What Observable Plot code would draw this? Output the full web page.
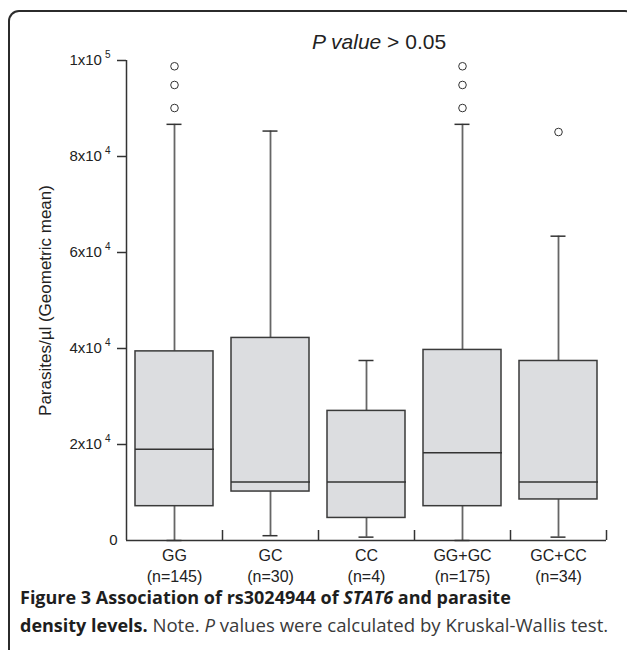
<!DOCTYPE html>
<html>
<head>
<meta charset="utf-8">
<script src="https://cdn.jsdelivr.net/npm/d3@7"></script>
<script src="https://cdn.jsdelivr.net/npm/@observablehq/plot@0.6"></script>
<style>
  html, body { margin: 0; padding: 0; background: #fff; width: 627px; height: 650px; overflow: hidden; position: relative; }
  #frame { position: absolute; left: 8px; top: 10px; width: 628px; height: 700px; border: 2px solid #2b2b2b; border-bottom: none; border-radius: 11px 11px 0 0; box-sizing: border-box; }
  #chart { position: absolute; left: 0; top: 0; }
  #title { position: absolute; left: 312px; top: 31px; font-family: "Liberation Sans", Arial, sans-serif; font-size: 21px; line-height: 21px; color: #222; white-space: nowrap; }
  #caption { position: absolute; left: 20px; top: 583px; width: 605px; font-family: "Open Sans", sans-serif; font-size: 18.6px; line-height: 28px; color: #3a3a3a; white-space: nowrap; }
  #caption b { color: #1e1e1e; font-weight: 700; font-size: 18px; }
</style>
</head>
<body>
<div id="frame"></div>
<div id="chart"></div>
<div id="title"><i>P value</i> &gt; 0.05</div>
<div id="caption"><b>Figure 3 Association of rs3024944 of <i>STAT6</i> and parasite</b><br><b>density levels.</b> Note. <i>P</i> values were calculated by Kruskal-Wallis test.</div>
<script>
// ---- data ----
const categories = ["GG", "GC", "CC", "GG+GC", "GC+CC"];
const sampleSizes = ["(n=145)", "(n=30)", "(n=4)", "(n=175)", "(n=34)"];
const whiskerLow  = [0,     1000,  700,   0,     700];
const q1Values    = [7150,  10200, 4700,  7150,  8550];
const medians     = [19000, 12200, 12200, 18300, 12200];
const q3Values    = [39400, 42200, 27000, 39700, 37400];
const whiskerHigh = [86700, 85300, 37500, 86700, 63400];
const outlierGroup  = [0, 0, 0, 3, 3, 3, 4];
const outlierValues = [90100, 94900, 98800, 90100, 94900, 98800, 85100];
const yTicks = [0, 20000, 40000, 60000, 80000, 100000];
const yTickLabels = ["0", "2x10^4", "4x10^4", "6x10^4", "8x10^4", "1x10^5"];
const yLabel = "Parasites/µl (Geometric mean)";

// ---- tables ----
const idx = categories.map((_, i) => i);
const rows = idx.map(i => ({i, lo: whiskerLow[i], q1: q1Values[i], med: medians[i], q3: q3Values[i], hi: whiskerHigh[i]}));
const outliers = outlierGroup.map((g, k) => ({i: g, v: outlierValues[k]}));
const xDomain = [-0.5, categories.length - 0.5];
const yDomain = [yTicks[0], yTicks[yTicks.length - 1]];
const bounds = idx.map(i => i + 0.5);

const dark = "#333";
const whisk = "#666";
const boxFill = "#dcdde0";

const chart = Plot.plot({
  width: 627,
  height: 590,
  marginLeft: 126,
  marginRight: 21,
  marginTop: 60,
  marginBottom: 50,
  style: {fontFamily: "'Liberation Sans', Arial, sans-serif", fontSize: "16px", color: "#222", background: "transparent"},
  x: {domain: xDomain, axis: null, label: null},
  y: {domain: yDomain, axis: null, label: null},
  marks: [
    // whiskers
    Plot.ruleX(rows, {x: "i", y1: "lo", y2: "q1", stroke: whisk, strokeWidth: 1.8}),
    Plot.ruleX(rows, {x: "i", y1: "q3", y2: "hi", stroke: whisk, strokeWidth: 1.8}),
    Plot.ruleY(rows, {y: "hi", x1: "i", x2: "i", insetLeft: -7.5, insetRight: -7.5, stroke: dark, strokeWidth: 1.5}),
    Plot.ruleY(rows, {y: "lo", x1: "i", x2: "i", insetLeft: -7.5, insetRight: -7.5, stroke: dark, strokeWidth: 1.5}),
    // boxes
    Plot.rect(rows, {x1: d => d.i - 0.5, x2: d => d.i + 0.5, y1: "q1", y2: "q3", insetLeft: 9, insetRight: 9, fill: boxFill, stroke: "#3a3a3a", strokeWidth: 1.5}),
    Plot.ruleY(rows, {y: "med", x1: d => d.i - 0.5, x2: d => d.i + 0.5, insetLeft: 9, insetRight: 8, stroke: dark, strokeWidth: 1.5}),
    // outliers
    Plot.dot(outliers, {x: "i", y: "v", r: 3.8, stroke: dark, strokeWidth: 1, fill: "white"}),
    // axis lines
    Plot.ruleX([xDomain[0]], {y1: yDomain[0], y2: yDomain[1], stroke: dark, strokeWidth: 1.5}),
    Plot.ruleY([yDomain[0]], {x1: xDomain[0], x2: xDomain[1], stroke: dark, strokeWidth: 1.5}),
    // inward boundary ticks on x axis
    Plot.ruleX(bounds, {x: d => d, y1: yDomain[0], y2: yDomain[0], insetTop: -10, stroke: dark, strokeWidth: 1.5}),
    // y axis ticks and labels
    Plot.axisY({ticks: yTicks.slice(1), tickSize: 9, tickPadding: 7, fontSize: 15, stroke: dark, strokeWidth: 1.5, label: null,
      tickFormat: d => yTickLabels[yTicks.indexOf(d)]}),
    Plot.axisY({ticks: yTicks.slice(0, 1), tickSize: 0, tickPadding: 9, fontSize: 15, label: null,
      tickFormat: d => yTickLabels[yTicks.indexOf(d)]}),
    // x axis labels
    Plot.axisX({ticks: idx, tickSize: 0, tickPadding: 6, fontSize: 16, lineHeight: 1.31, label: null,
      tickFormat: i => categories[i] + "\n" + sampleSizes[i]}),
    // y axis title
    Plot.text([yLabel], {text: d => d, frameAnchor: "left", textAnchor: "middle", rotate: -90, dx: -81, fontSize: 17, fill: "#222"})
  ]
});
document.getElementById("chart").appendChild(chart);

// superscript exponents in y tick labels
const NS = "http://www.w3.org/2000/svg";
chart.querySelectorAll("text").forEach(t => {
  if (t.children.length) return;
  const m = t.textContent.match(/^(.*)\^(\d+)$/);
  if (!m) return;
  t.textContent = m[1];
  const ts = document.createElementNS(NS, "tspan");
  ts.setAttribute("dx", "3");
  ts.setAttribute("dy", "-7");
  ts.setAttribute("font-size", "10");
  ts.textContent = m[2];
  t.appendChild(ts);
});
</script>
</body>
</html>
